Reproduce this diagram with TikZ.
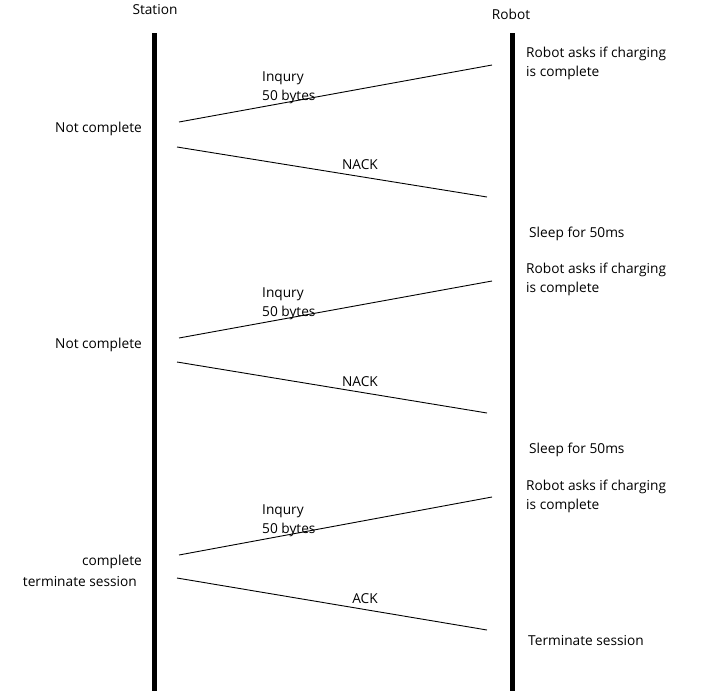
\documentclass[tikz,border=0pt]{standalone}
\usepackage{fontspec}
\setmainfont{Open Sans}
\usetikzlibrary{positioning}

\begin{document}
\begin{tikzpicture}[x=1pt, y=-1pt, node distance=0pt,
    txt/.style={inner sep=0pt, font={\fontsize{13.7}{19}\selectfont}, align=left},
    life/.style={line width=5pt},
    msg/.style={line width=0.9pt}]
  \useasboundingbox[fill=white] (0,0) rectangle (718,691);
  % participants
  \node[txt] (station) at (155,10) {Station};
  \node[txt] (robot) at (511,14) {Robot};
  \coordinate (s top) at (154,33);
  \coordinate (s bot) at (154,691);
  \coordinate (r top) at (512,33);
  \coordinate (r bot) at (512,691);
  \draw[life] (s top) -- (s bot);
  \draw[life] (r top) -- (r bot);

  % first round
  \coordinate (i1s) at (179,122);  \coordinate (i1e) at (492,65);
  \coordinate (n1s) at (177,147);  \coordinate (n1e) at (487,197);
  \draw[msg] (i1s) -- (i1e);
  \draw[msg] (n1s) -- (n1e);
  \node[txt, anchor=west] (inq1) at (262,88) {Inqury\\50 bytes};
  \node[txt, anchor=east] (nc1) at (142,128.5) {Not complete};
  \node[txt] (nack1) at (360,164.5) {NACK};
  \node[txt, anchor=west] (ask1) at (526,63) {Robot asks if charging\\is complete};
  \node[txt, anchor=west] (sleep1) at (529,233.5) {Sleep for 50ms};

  % second round
  \coordinate (i2s) at (179,338);  \coordinate (i2e) at (492,281);
  \coordinate (n2s) at (177,362);  \coordinate (n2e) at (487,413);
  \draw[msg] (i2s) -- (i2e);
  \draw[msg] (n2s) -- (n2e);
  \node[txt, anchor=west] (inq2) at (262,304) {Inqury\\50 bytes};
  \node[txt, anchor=east] (nc2) at (142,344.5) {Not complete};
  \node[txt] (nack2) at (360,381.5) {NACK};
  \node[txt, anchor=west] (ask2) at (526,279) {Robot asks if charging\\is complete};
  \node[txt, anchor=west] (sleep2) at (529,449.5) {Sleep for 50ms};

  % last round
  \coordinate (i3s) at (179,555);  \coordinate (i3e) at (492,497);
  \coordinate (a3s) at (177,578);  \coordinate (a3e) at (487,630);
  \draw[msg] (i3s) -- (i3e);
  \draw[msg] (a3s) -- (a3e);
  \node[txt, anchor=west] (inq3) at (262,521) {Inqury\\50 bytes};
  \node[txt, anchor=east] (done) at (142,561.5) {complete};
  \node[txt, anchor=east] (term) at (137,581.5) {terminate session};
  \node[txt] (ack) at (365,598.5) {ACK};
  \node[txt, anchor=west] (ask3) at (526,496) {Robot asks if charging\\is complete};
  \node[txt, anchor=west] (end) at (528,640.5) {Terminate session};
\end{tikzpicture}
\end{document}
